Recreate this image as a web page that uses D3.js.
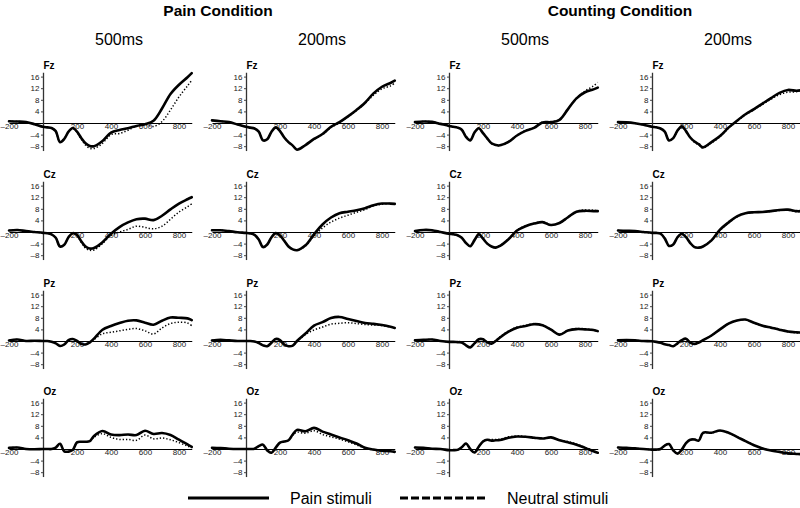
<!DOCTYPE html>
<html><head><meta charset="utf-8">
<script src="https://cdn.jsdelivr.net/npm/d3@7"></script>
<style>
body{margin:0;background:#fff}
svg{display:block;font-family:"Liberation Sans",Arial,Helvetica,sans-serif}
</style>
</head><body>
<svg id="chart" width="800" height="508"></svg>
<script>
// ---------- data ----------
const times = [-200,-150,-100,-50,0,25,50,75,100,125,150,175,200,225,250,275,300,350,400,450,500,550,600,650,700,750,800,850,875];
const electrodes = ["Fz","Cz","Pz","Oz"];
const conditionTitles = ["Pain Condition","Counting Condition"];
const columnTitles = ["500ms","200ms","500ms","200ms"];
const xTickValues = [-200,200,400,600,800];
const yTickValues = [16,12,8,4,-4,-8];
const legendLabels = ["Pain stimuli","Neutral stimuli"];

// Fz
const fz_pain500_pain     = [0.6,0.5,0.3,-0.4,-1.3,-1.5,-1.7,-2.8,-6.6,-5.5,-3.0,-1.7,-3.0,-5.2,-7.0,-7.9,-8.0,-6.2,-3.3,-2.4,-1.8,-1.0,-0.4,0.8,5.0,10.0,13.2,15.8,17.2];
const fz_pain500_neutral  = [0.6,0.5,0.3,-0.4,-1.3,-1.5,-1.7,-3.0,-6.4,-5.3,-3.0,-1.9,-3.2,-5.6,-7.6,-8.7,-8.8,-7.0,-4.0,-3.6,-2.5,-1.0,-0.5,-1.2,0.5,4.5,9.0,12.8,14.7];
const fz_pain200_pain     = [0.9,0.6,0.3,-0.5,-1.3,-1.6,-1.9,-3.0,-6.0,-5.6,-3.0,-1.5,-2.8,-5.0,-6.6,-7.8,-9.2,-7.6,-5.5,-3.8,-1.3,0.3,2.3,4.5,7.0,10.2,12.5,13.8,14.6];
const fz_pain200_neutral  = [0.9,0.6,0.3,-0.5,-1.3,-1.6,-1.9,-3.0,-6.0,-5.6,-3.0,-1.6,-2.9,-5.0,-6.6,-7.8,-9.0,-7.6,-5.6,-4.0,-1.6,0.1,2.2,4.3,6.8,9.6,11.8,12.8,13.8];
const fz_count500_pain    = [0.3,0.5,0.4,-0.3,-1.0,-1.3,-1.6,-2.3,-4.8,-6.0,-3.3,-1.8,-3.5,-5.3,-7.0,-7.6,-7.7,-6.5,-4.3,-2.7,-1.7,0.2,0.3,1.1,4.8,8.5,10.6,11.6,12.2];
const fz_count500_neutral = [0.3,0.5,0.4,-0.3,-1.0,-1.3,-1.6,-2.3,-4.6,-5.8,-3.3,-1.9,-3.5,-5.4,-7.1,-7.7,-7.8,-6.6,-4.2,-2.6,-1.6,0.3,0.4,1.1,4.8,8.6,11.0,12.8,14.0];
const fz_count200_pain    = [0.3,0.2,-0.1,-0.6,-1.3,-1.5,-1.9,-3.0,-6.0,-5.2,-2.6,-1.1,-2.8,-5.0,-6.4,-7.3,-8.4,-6.6,-4.5,-1.6,0.8,3.0,4.8,6.7,8.6,10.4,11.4,11.1,11.3];
const fz_count200_neutral = [0.3,0.2,-0.1,-0.6,-1.3,-1.5,-1.9,-3.0,-5.8,-5.2,-2.8,-1.3,-2.9,-5.1,-6.6,-7.6,-8.6,-6.9,-4.7,-1.8,0.6,2.8,4.6,6.4,8.2,9.8,10.6,10.8,11.2];
// Cz
const cz_pain500_pain     = [0.5,0.7,0.3,0.0,-0.3,-0.4,-0.8,-2.0,-5.0,-4.4,-1.8,-0.4,-1.0,-3.2,-5.0,-5.7,-5.5,-3.5,-0.6,1.7,3.3,4.4,4.6,4.1,5.6,7.8,9.8,11.3,12.0];
const cz_pain500_neutral  = [0.5,0.7,0.3,0.0,-0.3,-0.4,-0.8,-2.0,-5.0,-4.4,-1.8,-0.5,-1.2,-3.6,-5.6,-6.3,-6.2,-4.0,-1.2,0.0,0.9,2.0,1.6,1.1,2.0,4.4,6.9,8.7,9.7];
const cz_pain200_pain     = [0.6,0.6,0.3,-0.1,-0.3,-0.5,-1.0,-2.6,-5.2,-4.3,-1.8,-0.4,-1.2,-3.0,-5.0,-6.0,-6.3,-4.6,-0.8,2.6,5.0,6.5,7.0,7.5,8.2,9.2,9.8,9.8,9.7];
const cz_pain200_neutral  = [0.6,0.6,0.3,-0.1,-0.3,-0.5,-1.0,-2.6,-5.2,-4.3,-1.8,-0.4,-1.2,-3.0,-5.0,-6.0,-6.3,-4.8,-1.4,1.4,3.4,4.8,5.8,6.8,7.7,9.0,9.6,9.8,9.6];
const cz_count500_pain    = [0.3,0.7,0.6,0.0,-0.6,-0.8,-1.1,-2.0,-3.8,-4.9,-2.8,-0.8,-2.3,-4.0,-5.0,-5.4,-4.8,-2.5,0.5,2.0,2.9,3.4,2.4,3.1,5.1,7.0,7.3,7.2,7.2];
const cz_count500_neutral = [0.3,0.6,0.5,0.0,-0.6,-0.8,-1.1,-2.0,-3.8,-4.8,-2.8,-0.9,-2.3,-4.0,-5.0,-5.3,-4.7,-2.4,0.6,2.1,3.0,3.5,2.5,3.0,5.0,7.1,7.6,7.5,7.3];
const cz_count200_pain    = [0.5,0.4,0.3,0.0,-0.3,-0.3,-0.6,-2.2,-4.8,-4.3,-1.8,-0.6,-1.8,-3.8,-5.2,-5.4,-5.0,-2.9,0.8,3.3,5.4,6.5,6.8,6.9,7.2,7.6,7.7,7.2,7.2];
const cz_count200_neutral = [0.5,0.4,0.3,0.0,-0.3,-0.3,-0.6,-2.2,-4.8,-4.3,-1.8,-0.6,-1.8,-3.8,-5.2,-5.4,-5.0,-2.8,0.6,3.1,5.2,6.4,6.8,6.9,7.1,7.4,7.5,7.0,7.0];
// Pz
const pz_pain500_pain     = [0.2,0.5,0.0,0.1,0.0,0.0,-0.3,-0.8,-1.7,-1.2,0.3,0.7,0.0,-1.0,-1.2,-0.5,0.8,3.9,5.2,6.2,7.0,7.1,6.3,5.6,7.0,8.1,8.0,7.8,7.2];
const pz_pain500_neutral  = [0.2,0.5,0.0,0.1,0.0,0.0,-0.3,-0.8,-1.7,-1.2,0.3,0.7,0.0,-1.0,-1.2,-0.6,0.5,2.5,3.0,3.5,4.0,4.3,3.5,2.4,4.5,6.0,6.5,6.2,5.3];
const pz_pain200_pain     = [0.2,0.4,0.2,0.0,0.0,0.0,-0.2,-0.7,-1.5,-1.8,-0.6,0.7,0.3,-1.2,-1.8,-1.6,0.0,2.6,5.3,6.5,7.9,8.3,7.6,6.9,6.2,5.9,5.5,4.9,4.5];
const pz_pain200_neutral  = [0.2,0.4,0.2,0.0,0.0,0.0,-0.2,-0.7,-1.5,-1.8,-0.6,0.7,0.3,-1.2,-1.8,-1.6,-0.2,2.2,3.8,4.8,5.8,6.1,6.3,6.0,5.7,5.5,5.3,4.8,4.5];
const pz_count500_pain    = [0.2,0.4,0.5,0.0,-0.3,-0.3,-0.4,-0.5,-1.5,-2.2,-0.8,0.6,0.6,-0.5,-0.9,0.0,1.2,3.2,4.6,5.2,5.8,5.4,3.9,2.2,3.6,4.1,4.0,3.8,3.4];
const pz_count500_neutral = [0.2,0.4,0.5,0.0,-0.3,-0.3,-0.4,-0.5,-1.5,-2.1,-0.8,0.6,0.7,-0.4,-0.8,0.1,1.4,3.4,4.8,5.4,6.0,5.5,4.0,2.3,3.7,4.3,4.2,3.8,3.3];
const pz_count200_pain    = [0.2,0.3,0.2,0.0,-0.1,-0.3,-0.6,-1.1,-1.4,-1.8,-0.8,0.3,0.8,-0.6,-1.0,-0.5,0.3,1.9,4.0,6.0,7.1,7.4,6.3,5.3,4.6,3.9,3.3,3.0,2.9];
const pz_count200_neutral = [0.2,0.3,0.2,0.0,-0.1,-0.3,-0.6,-1.1,-1.4,-1.8,-0.8,0.3,0.8,-0.6,-1.0,-0.5,0.3,1.9,4.0,6.0,7.0,7.3,6.2,5.3,4.7,4.1,3.2,2.8,2.8];
// Oz
const oz_pain500_pain     = [0.4,0.5,0.0,-0.1,0.0,0.0,0.0,0.5,1.8,-0.8,-0.9,-0.3,2.3,2.5,2.5,2.7,4.5,6.2,5.0,4.8,5.0,4.8,6.3,5.2,5.5,4.8,3.2,1.6,0.7];
const oz_pain500_neutral  = [0.4,0.5,0.0,-0.1,0.0,0.0,0.0,0.5,1.8,-0.8,-0.9,-0.3,2.3,2.5,2.5,2.6,4.0,5.3,4.0,3.3,3.3,3.0,4.8,3.5,3.8,3.2,2.2,1.0,0.5];
const oz_pain200_pain     = [0.4,0.3,0.1,0.0,0.0,0.0,0.1,1.0,1.5,-0.5,-1.3,0.5,2.2,2.6,3.0,5.0,6.6,6.1,7.3,6.0,5.0,4.0,3.0,1.9,0.4,-0.2,-0.6,-0.8,-1.0];
const oz_pain200_neutral  = [0.4,0.3,0.1,0.0,0.0,0.0,0.1,1.0,1.5,-0.5,-1.3,0.5,2.2,2.6,3.0,4.8,5.8,5.4,6.3,5.0,4.2,3.4,2.5,1.4,0.3,-0.3,-0.6,-0.8,-0.9];
const oz_count500_pain    = [0.5,0.4,0.1,0.0,-0.4,-0.4,-0.3,0.6,1.9,0.0,-1.2,0.8,2.6,3.2,2.9,3.0,3.1,3.9,4.3,4.2,3.9,3.6,4.0,3.0,2.3,1.5,0.4,-0.8,-1.3];
const oz_count500_neutral = [0.5,0.4,0.1,0.0,-0.4,-0.4,-0.3,0.6,1.9,0.0,-1.2,0.8,2.6,3.2,3.3,3.3,3.4,4.2,4.5,4.3,4.0,3.7,4.0,3.1,2.6,1.7,0.6,-0.6,-1.2];
const oz_count200_pain    = [0.5,0.4,0.2,0.0,-0.2,-0.2,0.0,1.2,1.7,-0.5,-1.6,-0.2,2.0,3.2,3.3,2.9,5.6,5.6,6.4,5.6,4.2,2.7,1.3,0.2,-0.5,-1.0,-1.5,-1.7,-1.8];
const oz_count200_neutral = [0.5,0.4,0.2,0.0,-0.2,-0.2,0.0,1.2,1.7,-0.5,-1.6,-0.2,2.0,3.2,3.4,3.0,5.5,5.5,6.3,5.5,4.2,2.8,1.4,0.3,-0.4,-0.9,-1.4,-1.6,-1.7];

const panelSeries = [
  [[fz_pain500_pain,fz_pain500_neutral],[fz_pain200_pain,fz_pain200_neutral],[fz_count500_pain,fz_count500_neutral],[fz_count200_pain,fz_count200_neutral]],
  [[cz_pain500_pain,cz_pain500_neutral],[cz_pain200_pain,cz_pain200_neutral],[cz_count500_pain,cz_count500_neutral],[cz_count200_pain,cz_count200_neutral]],
  [[pz_pain500_pain,pz_pain500_neutral],[pz_pain200_pain,pz_pain200_neutral],[pz_count500_pain,pz_count500_neutral],[pz_count200_pain,pz_count200_neutral]],
  [[oz_pain500_pain,oz_pain500_neutral],[oz_pain200_pain,oz_pain200_neutral],[oz_count500_pain,oz_count500_neutral],[oz_count200_pain,oz_count200_neutral]]
];

// ---------- layout ----------
const svg = d3.select("#chart");
const colAxisX = [43, 246, 449, 652];
const rowZeroY = [123, 232, 341, 449];
const pxPerMs = 0.17, pxPerUv = 2.9;
const xDomain = [-200, 875], yDomain = [-9.5, 17.5];

// titles
const condX = [218, 620];
conditionTitles.forEach((t,i)=>{
  svg.append("text").attr("x",condX[i]).attr("y",16).attr("text-anchor","middle")
    .attr("font-size",15.5).attr("font-weight","bold").attr("fill","#000").text(t);
});
columnTitles.forEach((t,i)=>{
  svg.append("text").attr("x",colAxisX[i]+76).attr("y",45).attr("text-anchor","middle")
    .attr("font-size",16).attr("fill","#000").text(t);
});

const fmt = d => d < 0 ? "\u2013" + Math.abs(d) : String(d);

electrodes.forEach((el, r) => {
  panelSeries[r].forEach((pair, c) => {
    const ax = colAxisX[c], zy = rowZeroY[r];
    const x = d3.scaleLinear().domain(xDomain).range([ax + xDomain[0]*pxPerMs, ax + xDomain[1]*pxPerMs]);
    const y = d3.scaleLinear().domain(yDomain).range([zy - yDomain[0]*pxPerUv, zy - yDomain[1]*pxPerUv]);
    const g = svg.append("g");

    // horizontal axis at 0
    const xa = g.append("g").attr("transform",`translate(0,${y(0)})`)
      .call(d3.axisBottom(x).tickValues(xTickValues).tickSize(0).tickPadding(0).tickFormat(fmt));
    xa.select(".domain").attr("stroke","#000").attr("stroke-width",1);
    xa.selectAll("text").attr("font-size",8).attr("fill","#222")
      .attr("font-family",'"Liberation Sans",Arial,sans-serif');

    // vertical axis at 0 ms
    const ya = g.append("g").attr("transform",`translate(${x(0)},0)`)
      .call(d3.axisLeft(y).tickValues(yTickValues).tickSize(2).tickSizeOuter(0).tickPadding(1.5).tickFormat(fmt));
    ya.select(".domain").attr("stroke","#333").attr("stroke-width",1.3);
    ya.selectAll(".tick line").attr("stroke","#444");
    ya.selectAll("text").attr("font-size",8).attr("fill","#222")
      .attr("font-family",'"Liberation Sans",Arial,sans-serif');

    // electrode label
    g.append("text").attr("x",x(0)+0.5).attr("y",y(yDomain[1])-3.5)
      .attr("font-size",10).attr("font-weight","bold").attr("fill","#000").text(el);

    const line = d3.line().x((d,i)=>x(times[i])).y(d=>y(d)).curve(d3.curveCatmullRom.alpha(0.5));
    // pain (solid)
    g.append("path").attr("d",line(pair[0])).attr("fill","none").attr("stroke","#000")
      .attr("stroke-width",2.6).attr("stroke-linejoin","round").attr("stroke-linecap","round");
    // neutral (dotted)
    g.append("path").attr("d",line(pair[1])).attr("fill","none").attr("stroke","#000")
      .attr("stroke-width",1.5).attr("stroke-dasharray","1.3,2");
  });
});

// legend
const leg = svg.append("g");
leg.append("line").attr("x1",188).attr("x2",269).attr("y1",498).attr("y2",498)
  .attr("stroke","#000").attr("stroke-width",3);
leg.append("text").attr("x",290).attr("y",504).attr("font-size",16).attr("fill","#000").text(legendLabels[0]);
leg.append("line").attr("x1",400).attr("x2",487).attr("y1",498).attr("y2",498)
  .attr("stroke","#000").attr("stroke-width",3).attr("stroke-dasharray","8,3");
leg.append("text").attr("x",507).attr("y",504).attr("font-size",16).attr("fill","#000").text(legendLabels[1]);
</script>
</body></html>
